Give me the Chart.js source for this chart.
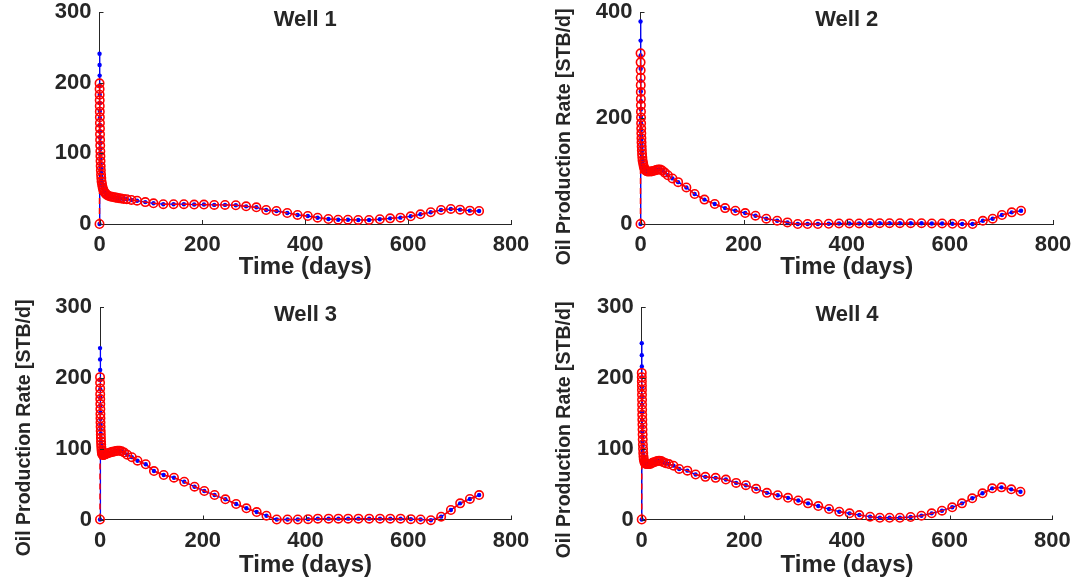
<!DOCTYPE html>
<html>
<head>
<meta charset="utf-8">
<script src="https://cdn.jsdelivr.net/npm/chart.js@4.4.1/dist/chart.umd.min.js"></script>
<style>
  html, body { margin: 0; padding: 0; background: #ffffff; }
  #figure { position: relative; width: 1081px; height: 583px; overflow: hidden; }
  #figure canvas { position: absolute; left: 0; top: 0; }
</style>
</head>
<body>
<div id="figure">
  <canvas id="well1" width="1081" height="583"></canvas>
  <canvas id="well2" width="1081" height="583"></canvas>
  <canvas id="well3" width="1081" height="583"></canvas>
  <canvas id="well4" width="1081" height="583"></canvas>
</div>
<script>
// Report times (days), shared by every well and both curves
const days = [
  0, 0.1, 0.2, 0.3, 0.4, 0.5, 0.6, 0.7, 0.8, 0.9, 1.0, 1.2, 1.4, 1.6, 1.8, 2.0, 2.3, 2.6, 3.0, 3.5, 4.0,
  5, 6, 7, 8.5, 10, 12, 14, 17, 21, 24, 28, 31, 34, 38, 42, 47, 53, 62, 73, 89,
  105, 124, 144, 164, 184, 203, 223, 244, 265, 285, 305, 324, 344, 365, 385, 405, 424, 445, 464,
  483, 503, 524, 545, 565, 585, 605, 624, 644, 664, 683, 701, 720, 738
];

const xTicks = [0, 200, 400, 600, 800];
const yTicksWell1 = [0, 100, 200, 300];
const yTicksWell2 = [0, 200, 400];
const yTicksWell3 = [0, 100, 200, 300];
const yTicksWell4 = [0, 100, 200, 300];

const panelTitles = ['Well 1', 'Well 2', 'Well 3', 'Well 4'];
const xAxisTitle = 'Time (days)';
const yAxisTitle = 'Oil Production Rate [STB/d]';

// Well 1 oil rate, STB/d
const well1Blue = [
  0, 241, 225, 210, 196, 183, 171, 160, 150, 140, 131, 122, 114, 106, 99, 92, 85, 79, 73, 67, 62,
  57, 53, 50, 47, 45, 43, 41.5, 40, 39, 38.5, 38, 37.5, 37, 36.5, 36, 35.5, 35, 34, 33, 31,
  29.3, 28, 28, 28, 27.5, 27.5, 27, 27, 26.5, 25, 23.6, 19.8, 18.4, 15.6, 12.8, 11.3, 8.9, 7.1, 6.1,
  6.1, 5.7, 5.7, 6.7, 8, 9, 10.9, 13.7, 16.6, 19.8, 21.3, 20.3, 18.9, 18.4
];
const well1Red = [
  0, 199, 191, 183, 175, 167, 159, 151, 143, 135, 127, 119, 111, 103, 96, 89, 82, 76, 70, 65, 60,
  56, 52, 49, 46.5, 44.5, 43, 41.5, 40, 39, 38.5, 38, 37.5, 37, 36.5, 36, 35.5, 35, 34, 33, 31,
  29.3, 28, 28, 28, 27.5, 27.5, 27, 27, 26.5, 25, 23.6, 19.8, 18.4, 15.6, 12.8, 11.3, 8.9, 7.1, 6.1,
  6.1, 5.7, 5.7, 6.7, 8, 9, 10.9, 13.7, 16.6, 19.8, 21.3, 20.3, 18.9, 18.4
];

// Well 2 oil rate, STB/d
const well2Blue = [
  0, 382, 346, 318, 293, 270, 250, 232, 216, 202, 190, 178, 168, 159, 151, 144, 137, 131, 125, 120, 115,
  111, 107, 104, 102, 100, 99, 99, 99, 99, 100, 101, 102, 103, 103, 101, 97, 92, 86, 79, 69,
  56.6, 46, 37.7, 30, 25, 20.7, 15.7, 10, 6.2, 3, 0, 0, 0, 0.5, 1, 1, 1, 1.5, 1.5,
  1.5, 1.5, 1.5, 1.5, 1, 1, 0.5, 0, 0, 6, 10, 17, 22, 25
];
const well2Red = [
  0, 322, 305, 290, 276, 262, 249, 236, 224, 212, 201, 190, 180, 171, 162, 154, 146, 139, 132, 126, 120,
  115, 110, 106, 103, 101, 99.5, 99, 99, 99, 100, 101, 102, 103, 103, 101, 97, 92, 86, 79, 69,
  56.6, 46, 37.7, 30, 25, 20.7, 15.7, 10, 6.2, 3, 0, 0, 0, 0.5, 1, 1, 1, 1.5, 1.5,
  1.5, 1.5, 1.5, 1.5, 1, 1, 0.5, 0, 0, 6, 10, 17, 22, 25
];

// Well 3 oil rate, STB/d
const well3Blue = [
  0, 242, 226, 211, 197, 184, 172, 161, 151, 142, 134, 127, 121, 115, 110, 106, 102, 99, 96, 94, 92.5,
  91.5, 91, 91, 91.5, 92, 92.5, 93.4, 94, 94.8, 95.5, 96, 96.6, 97, 97, 96.3, 94.5, 91.5, 88, 83, 78,
  68.4, 62.8, 59, 53.3, 46.3, 40.2, 34.6, 28.5, 21.9, 15.8, 10.5, 5.4, 0, 0, 0, 0.5, 1.2, 1.2, 1.2,
  1.2, 1.2, 1.2, 1.2, 1.2, 1.2, 0.5, 0, -1, 4, 13.4, 22.8, 29, 34.5
];
const well3Red = [
  0, 201, 193, 185, 177, 170, 163, 156, 149, 143, 137, 131, 125, 120, 115, 110, 106, 102, 98, 95, 93,
  91.5, 91, 91, 91.5, 92, 92.5, 93.4, 94, 94.8, 95.5, 96, 96.6, 97, 97, 96.3, 94.5, 91.5, 88, 83, 78,
  68.4, 62.8, 59, 53.3, 46.3, 40.2, 34.6, 28.5, 21.9, 15.8, 10.5, 5.4, 0, 0, 0, 0.5, 1.2, 1.2, 1.2,
  1.2, 1.2, 1.2, 1.2, 1.2, 1.2, 0.5, 0, -1, 4, 13.4, 22.8, 29, 34.5
];

// Well 4 oil rate, STB/d
const well4Blue = [
  0, 249, 232, 216, 201, 187, 174, 162, 151, 141, 132, 124, 117, 110, 104, 99, 94, 90, 87, 84, 82,
  80.5, 79.5, 79, 78.5, 78.3, 78.3, 78.3, 78.5, 80, 81, 82, 82.7, 83, 82.5, 81, 79.5, 78.3, 76, 71.4, 69,
  63.5, 60.2, 58.8, 56.4, 51.7, 48.4, 43.3, 37.6, 34.3, 30.6, 26.8, 22.8, 19, 14.8, 11, 8.7, 6.3, 4, 2.5,
  2.5, 2.5, 3.5, 5.4, 8.7, 12.4, 17.2, 22.8, 29.9, 37, 44, 45.4, 42.6, 39.2
];
const well4Red = [
  0, 207, 201, 195, 189, 183, 176, 169, 162, 155, 148, 141, 134, 127, 120, 113, 106, 100, 94, 89, 85,
  82, 80, 79, 78.5, 78.3, 78.3, 78.3, 78.5, 80, 81, 82, 82.7, 83, 82.5, 81, 79.5, 78.3, 76, 71.4, 69,
  63.5, 60.2, 58.8, 56.4, 51.7, 48.4, 43.3, 37.6, 34.3, 30.6, 26.8, 22.8, 19, 14.8, 11, 8.7, 6.3, 4, 2.5,
  2.5, 2.5, 3.5, 5.4, 8.7, 12.4, 17.2, 22.8, 29.9, 37, 44, 45.4, 42.6, 39.2
];

const INK = '#262626';
const FAMILY = "'Liberation Sans', Arial, Helvetica, sans-serif";
const PAGE_W = 1081, PAGE_H = 583;

// Inward tick marks, the panel title inside the top edge, and the rotated y label
const axesDecor = {
  id: 'axesDecor',
  afterDraw(chart, args, opts) {
    const { ctx, chartArea: a, scales } = chart;
    ctx.save();
    ctx.strokeStyle = INK;
    ctx.lineWidth = 1;
    ctx.beginPath();
    scales.x.ticks.forEach(t => {
      const px = Math.round(scales.x.getPixelForValue(t.value)) + 0.5;
      ctx.moveTo(px, a.bottom);
      ctx.lineTo(px, a.bottom - 4);
    });
    scales.y.ticks.forEach(t => {
      const py = Math.round(scales.y.getPixelForValue(t.value)) + 0.5;
      ctx.moveTo(a.left, py);
      ctx.lineTo(a.left + 4, py);
    });
    ctx.stroke();

    ctx.fillStyle = INK;
    ctx.textAlign = 'center';
    ctx.textBaseline = 'middle';
    ctx.font = 'bold ' + opts.titleSize + 'px ' + FAMILY;
    ctx.fillText(opts.title, (a.left + a.right) / 2, a.top + opts.titleOffset);

    if (opts.yLabel) {
      ctx.translate(opts.yLabel.x, opts.yLabel.y);
      ctx.rotate(-Math.PI / 2);
      ctx.font = 'bold ' + opts.yLabelSize + 'px ' + FAMILY;
      ctx.fillText(yAxisTitle, 0, 0);
    }
    ctx.restore();
  }
};

function points(values) {
  return days.map((d, i) => ({ x: d, y: values[i] }));
}

function makePanel(id, cfg) {
  const [L, T, R, B] = cfg.box;
  const yAxisW = 100;
  const xAxisH = 60;
  return new Chart(document.getElementById(id), {
    type: 'scatter',
    data: {
      datasets: [
        {
          // dashed red curve with open circles, drawn over the blue one
          data: points(cfg.red),
          showLine: true,
          borderColor: '#ff0000',
          backgroundColor: 'rgba(0,0,0,0)',
          borderWidth: 1.5,
          borderDash: [6, 4],
          pointRadius: 4.2,
          pointBorderWidth: 1.6,
          pointBorderColor: '#ff0000',
          pointBackgroundColor: 'rgba(0,0,0,0)',
          clip: 8,
          order: 0
        },
        {
          // solid blue curve with small filled dots
          data: points(cfg.blue),
          showLine: true,
          borderColor: '#0000ff',
          backgroundColor: '#0000ff',
          borderWidth: 1.3,
          pointRadius: 2.2,
          pointBorderWidth: 0,
          pointBackgroundColor: '#0000ff',
          clip: 8,
          order: 1
        }
      ]
    },
    options: {
      responsive: false,
      animation: false,
      events: [],
      layout: {
        padding: { left: L - yAxisW, top: T, right: PAGE_W - R, bottom: PAGE_H - B - xAxisH }
      },
      plugins: {
        legend: { display: false },
        tooltip: { enabled: false },
        axesDecor: { title: cfg.title, titleSize: 22, titleOffset: 8, yLabel: cfg.yLabel, yLabelSize: 19.5 }
      },
      scales: {
        x: {
          type: 'linear',
          min: xTicks[0],
          max: xTicks[xTicks.length - 1],
          afterBuildTicks: s => { s.ticks = xTicks.map(v => ({ value: v })); },
          ticks: { color: INK, font: { family: FAMILY, size: 22, weight: 'bold' }, padding: 8, maxRotation: 0, autoSkip: false },
          grid: { display: false, drawTicks: false },
          border: { display: true, color: INK, width: 1 },
          title: {
            display: true, text: xAxisTitle, color: INK,
            font: { family: FAMILY, size: 24, weight: 'bold' },
            padding: { top: 0, bottom: cfg.xTitlePad }
          },
          afterFit: s => { s.height = xAxisH; s.paddingLeft = 0; s.paddingRight = 0; }
        },
        y: {
          type: 'linear',
          min: cfg.yTicks[0],
          max: cfg.yTicks[cfg.yTicks.length - 1],
          afterBuildTicks: s => { s.ticks = cfg.yTicks.map(v => ({ value: v })); },
          ticks: { color: INK, font: { family: FAMILY, size: 22, weight: 'bold' }, padding: 8 },
          grid: { display: false, drawTicks: false },
          border: { display: true, color: INK, width: 1 },
          afterFit: s => { s.width = yAxisW; s.paddingTop = 0; s.paddingBottom = 0; }
        }
      }
    },
    plugins: [axesDecor]
  });
}

makePanel('well1', { title: panelTitles[0], box: [99.5, 12, 511, 224], blue: well1Blue, red: well1Red, yTicks: yTicksWell1, yLabel: null, xTitlePad: 2 });
makePanel('well2', { title: panelTitles[1], box: [640.5, 12, 1053, 224], blue: well2Blue, red: well2Red, yTicks: yTicksWell2, yLabel: { x: 565, y: 137 }, xTitlePad: 2 });
makePanel('well3', { title: panelTitles[2], box: [100, 307, 511, 519.5], blue: well3Blue, red: well3Red, yTicks: yTicksWell3, yLabel: { x: 25, y: 428 }, xTitlePad: 0 });
makePanel('well4', { title: panelTitles[3], box: [641.7, 307, 1052.3, 519.5], blue: well4Blue, red: well4Red, yTicks: yTicksWell4, yLabel: { x: 565, y: 430 }, xTitlePad: 0 });
</script>
</body>
</html>
